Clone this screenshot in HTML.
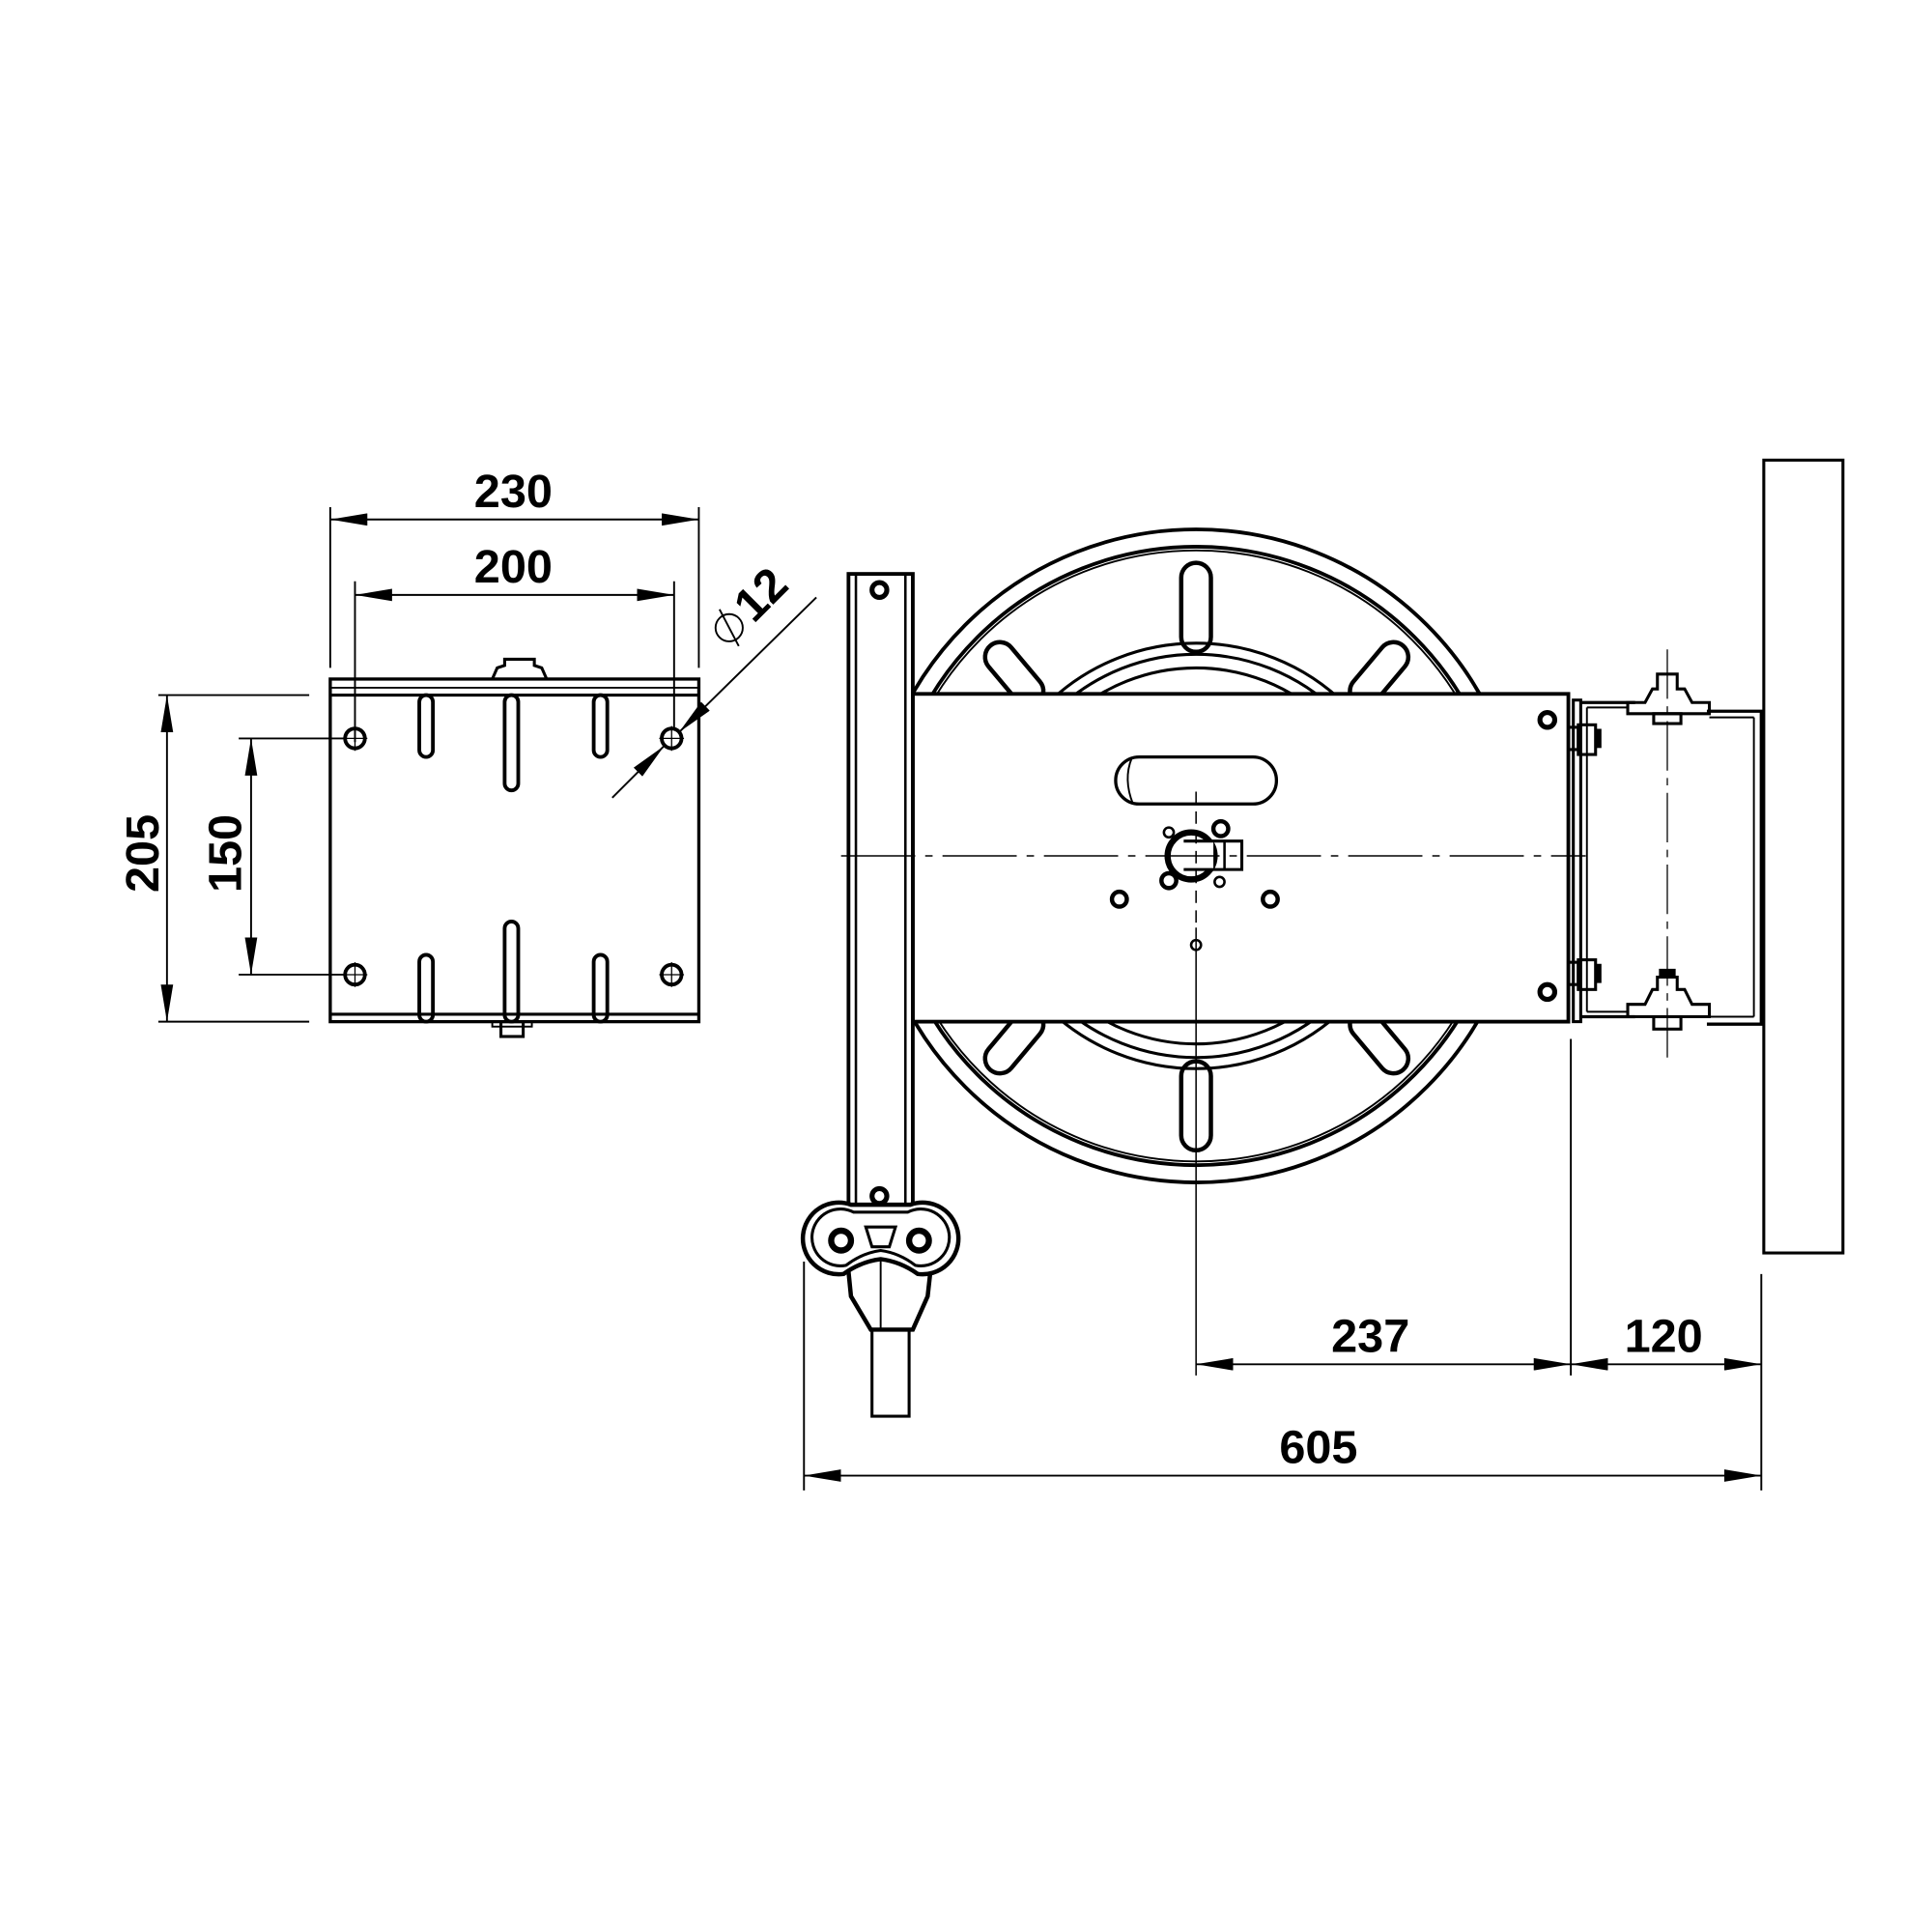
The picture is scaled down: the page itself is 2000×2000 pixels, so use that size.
<!DOCTYPE html>
<html><head><meta charset="utf-8"><style>
html,body{margin:0;padding:0;background:#fff;}
svg{display:block;}
text{font-family:"Liberation Sans",sans-serif;font-weight:bold;fill:#000;}
</style></head><body>
<svg width="2000" height="2000" viewBox="0 0 1562 1562" xmlns="http://www.w3.org/2000/svg">
<defs>
<marker id="a" viewBox="0 0 30 10" refX="30" refY="5" markerWidth="30" markerHeight="10" markerUnits="userSpaceOnUse" orient="auto-start-reverse">
<path d="M0,0 L30,5 L0,10 Z" fill="#000"/>
</marker>
</defs>
<g fill="none" stroke="#000" stroke-width="1.5">
<!-- LEFT PLATE -->
<line x1="267" y1="410" x2="267" y2="540"/>
<line x1="565" y1="410" x2="565" y2="540"/>
<line x1="267" y1="420" x2="565" y2="420" marker-start="url(#a)" marker-end="url(#a)"/>
<line x1="287" y1="470" x2="287" y2="600"/>
<line x1="545" y1="470" x2="545" y2="590"/>
<line x1="287" y1="481" x2="545" y2="481" marker-start="url(#a)" marker-end="url(#a)"/>
<line x1="128" y1="562" x2="250" y2="562"/>
<line x1="128" y1="826" x2="250" y2="826"/>
<line x1="135" y1="562" x2="135" y2="826" marker-start="url(#a)" marker-end="url(#a)"/>
<line x1="193" y1="597" x2="280" y2="597"/>
<line x1="193" y1="788" x2="280" y2="788"/>
<line x1="203" y1="597" x2="203" y2="788" marker-start="url(#a)" marker-end="url(#a)"/>
<rect x="267" y="549" width="298" height="277" stroke-width="2.6"/>
<line x1="267" y1="556" x2="565" y2="556"/>
<line x1="267" y1="562" x2="565" y2="562" stroke-width="2.4"/>
<line x1="267" y1="820" x2="565" y2="820" stroke-width="2.4"/>
<path d="M398 549 L402 540 L408 538 L408 533 L432 533 L432 538 L438 540 L442 549" stroke-width="2.4"/>
<rect x="405" y="826" width="18" height="12" stroke-width="2.4"/>
<rect x="398" y="826" width="32" height="4"/>
<g stroke-width="3">
<rect x="339" y="562" width="11" height="50" rx="5.5"/>
<rect x="408" y="562" width="11" height="77" rx="5.5"/>
<rect x="480" y="562" width="11" height="50" rx="5.5"/>
<rect x="339" y="772" width="11" height="54" rx="5.5"/>
<rect x="408" y="745" width="11" height="81" rx="5.5"/>
<rect x="480" y="772" width="11" height="54" rx="5.5"/>
</g>
<g stroke-width="3">
<circle cx="287" cy="597" r="8"/><circle cx="543" cy="597" r="8"/>
<circle cx="287" cy="788" r="8"/><circle cx="543" cy="788" r="8"/>
</g>
<path d="M277 597h20M287 587v20M533 597h20M543 587v20M277 788h20M287 778v20M533 788h20M543 778v20" stroke-width="1"/>
<line x1="495" y1="645" x2="537" y2="603" marker-end="url(#a)"/>
<line x1="660" y1="483" x2="549" y2="592" marker-end="url(#a)"/>
<!-- REEL -->
<circle cx="967" cy="692" r="264" stroke-width="3"/>
<circle cx="967" cy="692" r="250" stroke-width="3"/>
<circle cx="967" cy="692" r="247"/>
<circle cx="967" cy="692" r="172" stroke-width="2.4"/>
<circle cx="967" cy="692" r="163" stroke-width="2.4"/>
<circle cx="967" cy="692" r="152" stroke-width="2.4"/>
<g stroke-width="3.5">
<rect x="955" y="455" width="24" height="72" rx="12"/>
<rect x="955" y="858" width="24" height="72" rx="12"/>
<rect x="808" y="515" width="24" height="60" rx="12" transform="rotate(-40 820 545)"/>
<rect x="1103" y="515" width="24" height="60" rx="12" transform="rotate(40 1115 545)"/>
<rect x="808" y="812" width="24" height="60" rx="12" transform="rotate(40 820 842)"/>
<rect x="1103" y="812" width="24" height="60" rx="12" transform="rotate(-40 1115 842)"/>
</g>
<rect x="738" y="561" width="530" height="265" fill="#fff" stroke-width="3"/>
<rect x="686" y="464" width="52" height="520" fill="#fff" stroke-width="3"/>
<line x1="692" y1="464" x2="692" y2="984" stroke-width="2"/>
<line x1="732" y1="464" x2="732" y2="984" stroke-width="2"/>
<circle cx="711" cy="477" r="6" stroke-width="4"/><circle cx="711" cy="967" r="6" stroke-width="4"/>
<circle cx="1251" cy="582" r="6" stroke-width="4"/><circle cx="1251" cy="802" r="6" stroke-width="4"/>
<rect x="902" y="612" width="130" height="38" rx="19" stroke-width="2.6"/>
<path d="M915 613 Q908 630 916 650"/>
<circle cx="963" cy="692" r="19" stroke-width="5"/>
<rect x="965" y="680" width="16" height="24" fill="#fff" stroke="none"/>
<path d="M957 680 H1004 V703 H957" stroke-width="2.4"/>
<line x1="990" y1="680" x2="990" y2="703" stroke-width="2"/>
<circle cx="945" cy="673" r="4" stroke-width="2"/><circle cx="987" cy="670" r="6" stroke-width="3.5"/>
<circle cx="945" cy="712" r="6" stroke-width="3.5"/><circle cx="986" cy="713" r="4" stroke-width="2"/>
<circle cx="905" cy="727" r="6" stroke-width="3.5"/><circle cx="1027" cy="727" r="6" stroke-width="3.5"/>
<circle cx="967" cy="764" r="4" stroke-width="2"/>
<line x1="680" y1="692" x2="1282" y2="692" stroke-dasharray="60 8 6 8" stroke-width="1.2"/>
<line x1="967" y1="640" x2="967" y2="750" stroke-dasharray="10 6" stroke-width="1.2"/>
<line x1="967" y1="750" x2="967" y2="1112" stroke-width="1.2"/>
<!-- RIGHT BRACKET -->
<rect x="1426" y="372" width="64" height="641" stroke-width="2.4"/>
<rect x="1272" y="566" width="6" height="260" stroke-width="2.4"/>
<path d="M1278 568 H1322 M1380 575 H1424 V828 H1380 M1278 822 H1322" stroke-width="2.6"/>
<line x1="1418" y1="580" x2="1418" y2="822"/>
<line x1="1283" y1="572" x2="1283" y2="818"/>
<line x1="1283" y1="572" x2="1316" y2="572"/>
<line x1="1382" y1="580" x2="1418" y2="580"/>
<line x1="1283" y1="818" x2="1316" y2="818"/>
<line x1="1382" y1="822" x2="1418" y2="822"/>
<path d="M1316 577 V568 L1330 568 L1336 557 L1340 557 L1340 545 L1356 545 L1356 557 L1362 557 L1368 568 L1382 568 V577 Z" stroke-width="2.4"/>
<rect x="1337" y="577" width="22" height="8" stroke-width="2.4"/>
<path d="M1316 822 V812 L1330 812 L1336 800 L1340 800 L1340 790 L1356 790 L1356 800 L1362 800 L1368 812 L1382 812 V822 Z" stroke-width="2.4"/>
<rect x="1337" y="822" width="22" height="10" stroke-width="2.4"/>
<rect x="1342" y="784" width="12" height="6" fill="#000"/>
<line x1="1348" y1="525" x2="1348" y2="860" stroke-dasharray="40 6 6 6" stroke-width="1"/>
<rect x="1268" y="588" width="8" height="18" stroke-width="2.4"/><rect x="1276" y="586" width="14" height="24" stroke-width="2.4"/><rect x="1290" y="590" width="4" height="14" fill="#000"/>
<rect x="1268" y="778" width="8" height="18" stroke-width="2.4"/><rect x="1276" y="776" width="14" height="24" stroke-width="2.4"/><rect x="1290" y="780" width="4" height="14" fill="#000"/>
<!-- HANDLE -->
<path d="M688 974 H736 A29 29 0 1 1 742 1030 Q728 1020 712 1018 Q696 1020 682 1030 A29 29 0 1 1 688 974 Z" fill="#fff" stroke-width="3.5"/>
<path d="M690 980 H734 A23 23 0 1 1 740 1023 Q727 1013 712 1011 Q697 1013 684 1023 A23 23 0 1 1 690 980 Z" stroke-width="2.4"/>
<circle cx="680" cy="1003" r="8" stroke-width="5"/><circle cx="743" cy="1003" r="8" stroke-width="5"/>
<path d="M700 992 H724 L719 1008 H705 Z" stroke-width="2.4"/>
<path d="M686 1028 L688 1048 L704 1075 H738 L750 1048 L752 1030" stroke-width="3.5"/>
<line x1="712" y1="1018" x2="712" y2="1075"/>
<rect x="705" y="1075" width="30" height="70" stroke-width="2.4"/>
<!-- BOTTOM DIMS -->
<line x1="1270" y1="840" x2="1270" y2="1112"/>
<line x1="1424" y1="1030" x2="1424" y2="1205"/>
<line x1="650" y1="1020" x2="650" y2="1205"/>
<line x1="967" y1="1103" x2="1270" y2="1103" marker-start="url(#a)" marker-end="url(#a)"/>
<line x1="1270" y1="1103" x2="1424" y2="1103" marker-start="url(#a)" marker-end="url(#a)"/>
<line x1="650" y1="1193" x2="1424" y2="1193" marker-start="url(#a)" marker-end="url(#a)"/>
</g>
<text x="415" y="410" font-size="38" text-anchor="middle">230</text>
<text x="415" y="471" font-size="38" text-anchor="middle">200</text>
<text transform="translate(128 690) rotate(-90)" font-size="38" text-anchor="middle">205</text>
<text transform="translate(195 690) rotate(-90)" font-size="38" text-anchor="middle">150</text>
<g transform="translate(598 516) rotate(-45)">
<circle cx="0" cy="-12" r="11" fill="none" stroke="#000" stroke-width="1.5"/>
<line x1="-5" y1="4" x2="5" y2="-28" stroke="#000" stroke-width="1.5"/>
<text x="16" y="0" font-size="38">12</text>
</g>
<text x="1108" y="1093" font-size="38" text-anchor="middle">237</text>
<text x="1345" y="1093" font-size="38" text-anchor="middle">120</text>
<text x="1066" y="1183" font-size="38" text-anchor="middle">605</text>
</svg>
</body></html>
